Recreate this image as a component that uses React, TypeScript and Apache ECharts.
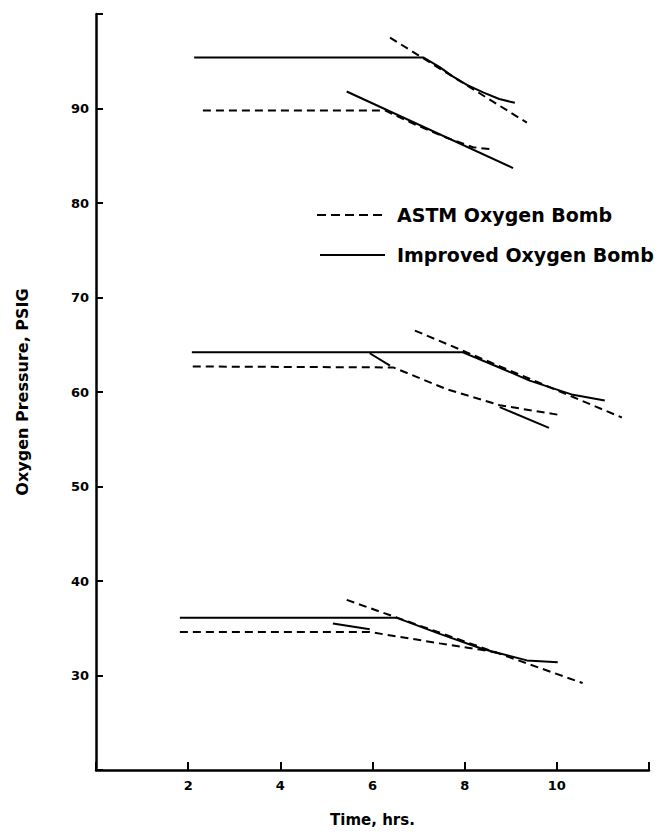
import React, { useEffect, useRef } from "react";
import * as echarts from "echarts";

const xTicks = [2, 4, 6, 8, 10];
const yTicks = [30, 40, 50, 60, 70, 80, 90];

const ASTM = "ASTM Oxygen Bomb";
const IMPROVED = "Improved Oxygen Bomb";

// Top group
const topImproved = [[2.13, 95.4], [7.1, 95.4], [7.45, 94.4], [7.74, 93.4], [8.05, 92.5], [8.4, 91.7], [8.75, 91.0], [9.09, 90.6]];
const topImprovedTangent = [[6.38, 97.5], [9.35, 88.5]];
const topAstm = [[2.32, 89.8], [6.27, 89.8], [6.88, 88.4], [7.61, 86.9], [8.18, 85.9], [8.55, 85.7]];
const topAstmTangent = [[5.44, 91.8], [9.05, 83.7]];

// Middle group
const midImproved = [[2.08, 64.2], [7.96, 64.2], [8.7, 62.7], [9.41, 61.2], [10.35, 59.7], [11.04, 59.1]];
const midImprovedTangent = [[6.92, 66.5], [11.41, 57.3]];
const midAstm = [[2.1, 62.7], [6.45, 62.6], [7.61, 60.3], [8.76, 58.6], [10.02, 57.6]];
const midAstmTangentA = [[5.94, 64.1], [6.38, 62.8]];
const midAstmTangentB = [[8.76, 58.4], [9.83, 56.2]];

// Bottom group
const botImproved = [[1.82, 36.1], [6.53, 36.1], [7.46, 34.4], [8.39, 32.8], [9.35, 31.6], [10.02, 31.4]];
const botImprovedTangent = [[5.44, 38.0], [10.56, 29.2]];
const botAstm = [[1.82, 34.6], [5.94, 34.6], [7.46, 33.4], [8.39, 32.7], [8.7, 32.4]];
const botAstmTangent = [[5.14, 35.5], [5.94, 34.9]];

const FONT = "DejaVu Sans";

export default function App() {
  const ref = useRef<HTMLDivElement>(null);
  useEffect(() => {
    if (!ref.current) return;
    const chart = echarts.init(ref.current, undefined, { renderer: "svg" });
    const solid = (name: string, data: number[][]) => ({
      type: "line",
      name,
      data,
      symbol: "none",
      showSymbol: false,
      lineStyle: { color: "#000", width: 2, type: "solid" },
      itemStyle: { color: "#000" },
      silent: true,
    });
    const dashed = (name: string, data: number[][]) => ({
      type: "line",
      name,
      data,
      symbol: "none",
      showSymbol: false,
      lineStyle: { color: "#000", width: 2, type: [8, 5] },
      itemStyle: { color: "#000" },
      silent: true,
    });
    const legendText = {
      fill: "#000",
      fontFamily: FONT,
      fontWeight: "bold",
      fontSize: 19,
      verticalAlign: "middle",
      align: "left",
    };
    chart.setOption({
      animation: false,
      backgroundColor: "#fff",
      grid: { left: 96, right: 11, top: 14, bottom: 70, containLabel: false },
      graphic: [
        {
          type: "line",
          shape: { x1: 317, y1: 215, x2: 385, y2: 215 },
          style: { stroke: "#000", lineWidth: 2, lineDash: [9, 5] },
          silent: true,
        },
        { type: "text", x: 397, y: 215, style: { ...legendText, text: ASTM }, silent: true },
        {
          type: "line",
          shape: { x1: 320, y1: 255, x2: 385, y2: 255 },
          style: { stroke: "#000", lineWidth: 2 },
          silent: true,
        },
        { type: "text", x: 397, y: 255, style: { ...legendText, text: IMPROVED }, silent: true },
      ],
      xAxis: {
        type: "value",
        min: 0,
        max: 12,
        interval: 2,
        name: "Time, hrs.",
        nameLocation: "middle",
        nameGap: 42,
        nameTextStyle: { fontFamily: FONT, fontWeight: "bold", fontSize: 15, color: "#000" },
        axisLine: { show: true, lineStyle: { color: "#000", width: 2.5 } },
        axisTick: { show: true, inside: true, length: 8, lineStyle: { color: "#000", width: 2 } },
        axisLabel: {
          margin: 9,
          fontFamily: FONT,
          fontWeight: "bold",
          fontSize: 13,
          color: "#000",
          formatter: (v: number) => (xTicks.includes(v) ? String(v) : ""),
        },
        splitLine: { show: false },
      },
      yAxis: {
        type: "value",
        min: 20,
        max: 100,
        interval: 10,
        name: "Oxygen Pressure, PSIG",
        nameLocation: "middle",
        nameRotate: 90,
        nameGap: 66,
        nameTextStyle: { fontFamily: FONT, fontWeight: "bold", fontSize: 16, color: "#000" },
        axisLine: { show: true, lineStyle: { color: "#000", width: 2.5 } },
        axisTick: { show: true, inside: true, length: 7, lineStyle: { color: "#000", width: 2 } },
        axisLabel: {
          margin: 7,
          fontFamily: FONT,
          fontWeight: "bold",
          fontSize: 13,
          color: "#000",
          formatter: (v: number) => (yTicks.includes(v) ? String(v) : ""),
        },
        splitLine: { show: false },
      },
      series: [
        solid(IMPROVED, topImproved),
        dashed(ASTM, topImprovedTangent),
        dashed(ASTM, topAstm),
        solid(IMPROVED, topAstmTangent),
        solid(IMPROVED, midImproved),
        dashed(ASTM, midImprovedTangent),
        dashed(ASTM, midAstm),
        solid(IMPROVED, midAstmTangentA),
        solid(IMPROVED, midAstmTangentB),
        solid(IMPROVED, botImproved),
        dashed(ASTM, botImprovedTangent),
        dashed(ASTM, botAstm),
        solid(IMPROVED, botAstmTangent),
      ],
    });
    return () => chart.dispose();
  }, []);
  return (
    <div
      ref={ref}
      style={{ position: "absolute", left: 0, top: 0, width: 660, height: 840, background: "#fff" }}
    />
  );
}
